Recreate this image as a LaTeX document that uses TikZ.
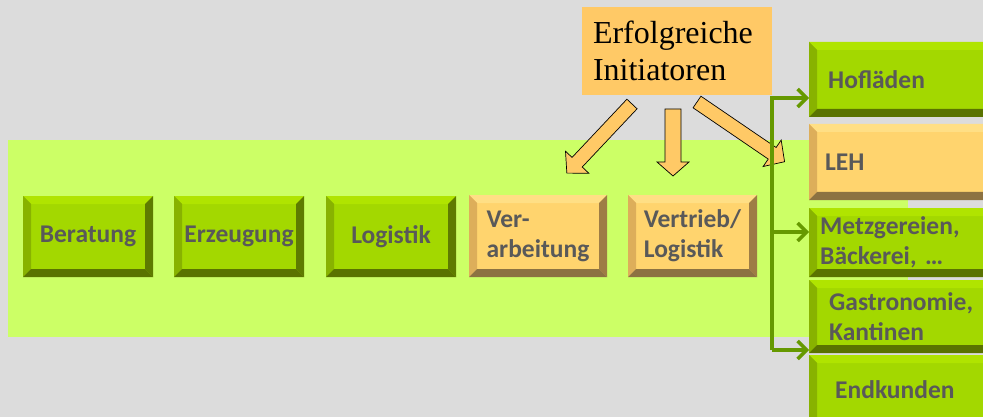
\documentclass[tikz,border=0pt]{standalone}
\usepackage{fontspec}
\setmainfont{Carlito}
\newfontfamily\serifinit{Liberation Serif}
\usetikzlibrary{arrows.meta}
\definecolor{bggray}{HTML}{DCDCDC}
\definecolor{band}{HTML}{CCFF66}
\definecolor{gface}{HTML}{A3D800}
\definecolor{gtop}{HTML}{B0E400}
\definecolor{gleft}{HTML}{88B200}
\definecolor{gright}{HTML}{5E7B00}
\definecolor{gbot}{HTML}{5A7300}
\definecolor{oface}{HTML}{FFD46E}
\definecolor{otop}{HTML}{FFDF85}
\definecolor{oleft}{HTML}{DDAE5A}
\definecolor{oright}{HTML}{9E7C45}
\definecolor{obot}{HTML}{8C7242}
\definecolor{initfill}{HTML}{FFC966}
\definecolor{txt}{HTML}{595959}
\definecolor{conncol}{HTML}{669900}
\tikzset{
  bevel/.style n args={5}{fill=#1, path picture={
    \fill[#2] (path picture bounding box.north west) -- (path picture bounding box.north east)
      -- ([shift={(-8pt,-8pt)}]path picture bounding box.north east) -- ([shift={(8pt,-8pt)}]path picture bounding box.north west) -- cycle;
    \fill[#3] (path picture bounding box.north west) -- ([shift={(8pt,-8pt)}]path picture bounding box.north west)
      -- ([shift={(8pt,8pt)}]path picture bounding box.south west) -- (path picture bounding box.south west) -- cycle;
    \fill[#4] (path picture bounding box.north east) -- ([shift={(-8pt,-8pt)}]path picture bounding box.north east)
      -- ([shift={(-8pt,8pt)}]path picture bounding box.south east) -- (path picture bounding box.south east) -- cycle;
    \fill[#5] (path picture bounding box.south west) -- ([shift={(8pt,8pt)}]path picture bounding box.south west)
      -- ([shift={(-8pt,8pt)}]path picture bounding box.south east) -- (path picture bounding box.south east) -- cycle;
  }},
  btn/.style={inner sep=0pt, text=txt, font=\bfseries\fontsize{25.5}{30}\selectfont, align=left},
  gbtn/.style={btn, bevel={gface}{gtop}{gleft}{gright}{gbot}},
  obtn/.style={btn, bevel={oface}{otop}{oleft}{oright}{obot}},
  rbox/.style={anchor=west, text width=170pt, align=left},
  conn/.style={draw=conncol, line width=3.5pt, -{Straight Barb[length=9pt,width=18pt]}},
  blockarr/.style={fill=initfill, draw=black, line width=0.7pt, line join=miter},
}
\begin{document}
\begin{tikzpicture}[x=1pt,y=-1pt]
\useasboundingbox (0,0) rectangle (983,417);
\clip (0,0) rectangle (983,417);
\fill[bggray] (0,0) rectangle (983,417);
\fill[band] (8,140) rectangle (908,337);

% chain boxes
\node[gbtn, minimum width=130pt, minimum height=81pt] (ber) at (88,236.5) {Beratung};
\node[gbtn, minimum width=130pt, minimum height=81pt] (erz) at (239,236.5) {Erzeugung};
\node[gbtn, minimum width=130pt, minimum height=81pt] (log) at (391,236.5) {Logistik};
\node[obtn, minimum width=138pt, minimum height=82pt] (ver) at (538,236) {Ver-\\arbeitung};
\node[obtn, minimum width=129pt, minimum height=82pt] (vtr) at (692.5,236) {Vertrieb/\\Logistik};

% right column
\node[gbtn, rbox, minimum height=75pt, inner xsep=19pt] (hof) at (809,79.5) {Hofläden};
\node[obtn, rbox, minimum height=76pt, inner xsep=16pt] (leh) at (809,162) {LEH};
\node[gbtn, rbox, minimum height=69pt, inner xsep=11pt] (metz) at (809,242.5) {Metzgereien,\\Bäckerei, …};
\node[gbtn, rbox, minimum height=73pt, inner xsep=20pt] (gast) at (809,316.5) {Gastronomie,\\Kantinen};
\node[gbtn, rbox, minimum height=70pt, inner xsep=26pt] (endk) at (809,390) {Endkunden};

% initiators
\node[fill=initfill, minimum width=190pt, minimum height=88pt, text width=168pt, inner xsep=11pt,
      align=left, font=\serifinit\fontsize{32}{37}\selectfont] (init) at (677,51) {Erfolgreiche\\Initiatoren};

% block arrows
\coordinate (a1) at (632,104);
\coordinate (a2) at (673,109);
\coordinate (a3) at (697,102);
\begin{scope}[shift={(a1)}, rotate=226.7]
\path[blockarr] (0,-7) -- (80,-7) -- (80,-16) -- (95,0) -- (80,16) -- (80,7) -- (0,7) -- cycle;
\end{scope}
\begin{scope}[shift={(a2)}, rotate=-90]
\path[blockarr] (0,-8) -- (53,-8) -- (53,-16) -- (67,0) -- (53,16) -- (53,8) -- (0,8) -- cycle;
\end{scope}
\begin{scope}[shift={(a3)}, rotate=-34.3]
\path[blockarr] (0,-7) -- (91,-7) -- (91,-16) -- (106,0) -- (91,16) -- (91,7) -- (0,7) -- cycle;
\end{scope}

% green distribution connectors
\coordinate (ttop) at (772,98);
\coordinate (tbot) at (772,350);
\coordinate (tmid) at (772,232);
\draw[conn] (tbot) -- (ttop) -- (hof.west |- ttop);
\draw[conn] (tmid) -- (metz.west |- tmid);
\draw[conn] (tbot) -- (gast.west |- tbot);
\end{tikzpicture}
\end{document}
